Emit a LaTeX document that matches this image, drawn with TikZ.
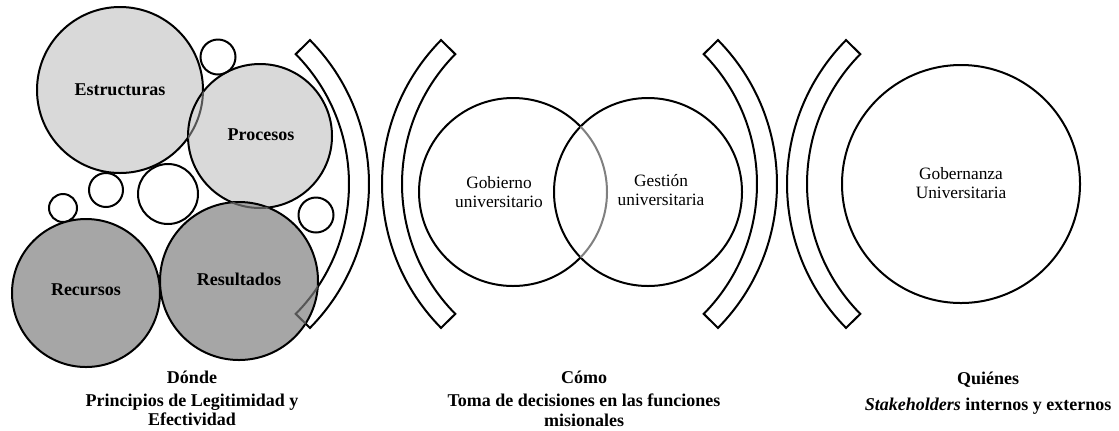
\documentclass[tikz,border=0pt]{standalone}
\usepackage{fontspec}
\setmainfont{Liberation Serif}
\usetikzlibrary{positioning}
\definecolor{lightgr}{HTML}{D9D9D9}
\definecolor{darkgr}{HTML}{A6A6A6}
\definecolor{seen}{HTML}{555555}
\tikzset{
  ring/.style={draw,line width=1.5pt},
  lbl/.style={font=\fontsize{13.5}{15}\selectfont\bfseries},
  txt/.style={font=\fontsize{13}{14.5}\selectfont,align=center},
  capt/.style={font=\fontsize{13.5}{14.5}\selectfont\bfseries,align=center},
  closebr/.pic={\draw[ring,#1] (44.6:205) arc[start angle=44.6,end angle=-44.6,radius=205]
      -- (-44.6:185) arc[start angle=-44.6,end angle=44.6,radius=185] -- cycle;},
  openbr/.pic={\draw[ring,#1] (135.4:205) arc[start angle=135.4,end angle=224.6,radius=205]
      -- (224.6:185) arc[start angle=224.6,end angle=135.4,radius=185] -- cycle;},
}
\begin{document}
\begin{tikzpicture}[x=0.75pt,y=-0.75pt]
\useasboundingbox (0,0) rectangle (1119,430);

% brackets
\coordinate (b1) at (164,184);
\coordinate (b2) at (587,184);
\coordinate (b3) at (572,184);
\coordinate (b4) at (992,184);
\pic at (b1) {closebr=black};
\pic at (b2) {openbr=black};
\pic at (b3) {closebr=black};
\pic at (b4) {openbr=black};

% donde
\coordinate (estr) at (120,90);
\coordinate (proc) at (260,136);
\coordinate (recu) at (86,293);
\coordinate (resu) at (239,281);
\draw[ring,fill=lightgr] (estr) circle[radius=83];
\draw[ring,fill=lightgr] (proc) circle[radius=72];
\begin{scope}
  \clip (proc) circle[radius=72];
  \draw[line width=1.5pt,seen] (estr) circle[radius=83];
\end{scope}
\draw[ring] (218,57) circle[radius=17.5];
\draw[ring] (106,190) circle[radius=17];
\draw[ring] (168,194) circle[radius=30];
\draw[ring] (63,208) circle[radius=14];
\draw[ring] (316,215) circle[radius=17.5];
\draw[ring,fill=darkgr] (recu) circle[radius=74];
\draw[ring,fill=darkgr] (resu) circle[radius=79];
\begin{scope}
  \clip (resu) circle[radius=79];
  \pic at (b1) {closebr=seen};
  \draw[line width=1.5pt,seen] (proc) circle[radius=72];
\end{scope}
\node[lbl] (estrl) at (120,90) {Estructuras};
\node[lbl] (procl) at (261,135) {Procesos};
\node[lbl] (recul) at (86,290) {Recursos};
\node[lbl] (resul) at (239,279) {Resultados};

% como
\coordinate (gob) at (513,192);
\coordinate (ges) at (648,192);
\draw[ring] (gob) circle[radius=94];
\draw[ring,fill=white] (ges) circle[radius=94];
\begin{scope}
  \clip (ges) circle[radius=94];
  \draw[line width=1.5pt,gray] (gob) circle[radius=94];
\end{scope}
\node[txt] (gobl) at (499,192) {Gobierno\\universitario};
\node[txt] (gesl) at (661,190) {Gestión\\universitaria};

% quienes
\coordinate (gnz) at (961,184);
\draw[ring] (gnz) circle[radius=119];
\node[txt] (gnzl) at (961,183) {Gobernanza\\Universitaria};

% captions
\node[capt] (donde) at (192,377) {Dónde};
\node[capt] (dondetxt) [below=1pt of donde] {Principios de Legitimidad y\\Efectividad};
\node[capt] (como) at (584,377) {Cómo};
\node[capt] (comotxt) [below=1pt of como] {Toma de decisiones en las funciones\\misionales};
\node[capt] (quien) at (988,380) {Quiénes};
\node[capt] (quientxt) [below=1pt of quien] {\textit{Stakeholders} internos y externos};
\end{tikzpicture}
\end{document}
